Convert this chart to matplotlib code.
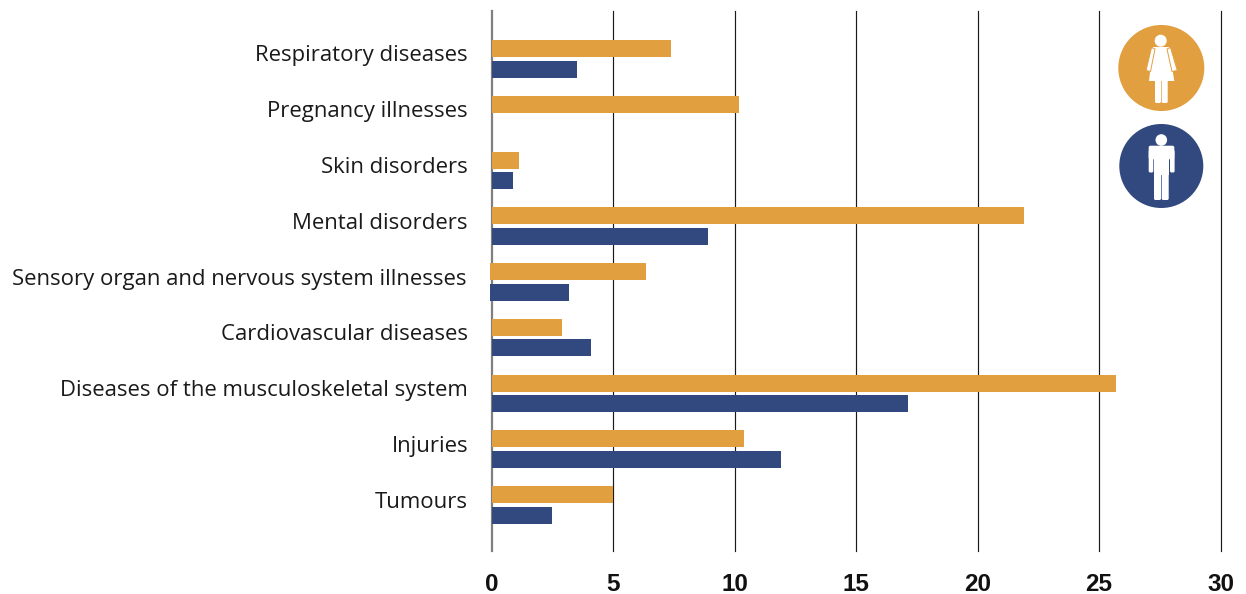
#!/usr/bin/env python3
"""Long-term sick leave by diagnosis group, women and men."""

import matplotlib
matplotlib.use('Agg')
import matplotlib.pyplot as plt
from matplotlib.patches import Circle, FancyBboxPatch, Polygon, Rectangle

categories = [
    'Respiratory diseases',
    'Pregnancy illnesses',
    'Skin disorders',
    'Mental disorders',
    'Sensory organ and nervous system illnesses',
    'Cardiovascular diseases',
    'Diseases of the musculoskeletal system',
    'Injuries',
    'Tumours',
]
women = [7.4, 10.2, 1.12, 21.9, 6.35, 2.92, 25.7, 10.4, 5.0]
men = [3.5, 0, 0.9, 8.9, 3.2, 4.1, 17.15, 11.9, 2.5]
x_ticks = [0, 5, 10, 15, 20, 25, 30]

ORANGE = '#e29f40'
BLUE = '#31497f'

W, H = 1246, 594
fig = plt.figure(figsize=(W / 100, H / 100), dpi=100)
fig.patch.set_facecolor('white')

# axes box in pixels: x 491.5..1220.5, y 11..551
ax = fig.add_axes([491.5 / W, 1 - 551 / H, 729 / W, (551 - 11) / H])
ax.set_xlim(0, 30)
step = 55.76
ax.set_ylim((551 - 58.5) / step, (11 - 58.5) / step)

for tick in x_ticks:
    ax.axvline(tick, color='#808080' if tick == 0 else '#1a1a1a',
               lw=1.6 if tick == 0 else 0.85, zorder=1, clip_on=False)

bar_h = 17 / step
for i, (w_val, m_val) in enumerate(zip(women, men)):
    # this row is set slightly left of the axis line
    left = -0.08 if i == 4 else 0
    ax.barh(i - 10 / step, w_val - left, left=left, height=bar_h, color=ORANGE, zorder=3, clip_on=False)
    if m_val:
        ax.barh(i + 10.5 / step, m_val - left, left=left, height=bar_h, color=BLUE, zorder=3, clip_on=False)

for spine in ax.spines.values():
    spine.set_visible(False)
ax.set_yticks([])
ax.set_xticks(x_ticks)
ax.tick_params(axis='x', length=0, pad=16)
for label in ax.set_xticklabels([str(t) for t in x_ticks]):
    label.set_fontfamily('Liberation Sans')
    label.set_fontweight('bold')
    label.set_fontsize(17.5)
    label.set_color('#111111')

for i, name in enumerate(categories):
    pad = -25.5 if i == 4 else -23.5
    ax.annotate(name, xy=(0, i), xycoords=('data', 'data'), xytext=(pad * 0.72, 1.8),
                textcoords='offset points', ha='right', va='center',
                fontfamily='Open Sans', fontsize=15.95, color='#1a1a1a')

# overlay in pixel coordinates for the two pictograms
icon = fig.add_axes([0, 0, 1, 1], facecolor='none')
icon.set_xlim(0, W)
icon.set_ylim(H, 0)
icon.axis('off')


def limb(x, y, w, h):
    return FancyBboxPatch((x + 1.5, y + 1.5), w - 3, h - 3, boxstyle='round,pad=1.5',
                          fc='white', ec='none')


# woman
icon.add_patch(Circle((1161.3, 68), 43, fc=ORANGE, ec='none'))
icon.add_patch(Circle((1160.7, 40.7), 6, fc='white', ec='none'))
icon.add_patch(Polygon([(1153, 47), (1169, 47), (1174.3, 81), (1149, 81)], fc='white', ec='none'))
icon.add_patch(Polygon([(1151.5, 47.5), (1155, 49), (1150.5, 71.5), (1146, 70.5)], fc='white', ec=ORANGE, lw=0.7))
icon.add_patch(Polygon([(1170.5, 47.5), (1167, 49), (1172, 71.5), (1177.3, 70.5)], fc='white', ec=ORANGE, lw=0.7))
icon.add_patch(limb(1155, 78, 6, 25))
icon.add_patch(limb(1161.7, 78, 6, 25))

# man
icon.add_patch(Circle((1161.3, 166), 42, fc=BLUE, ec='none'))
icon.add_patch(Circle((1161.3, 140), 5.8, fc='white', ec='none'))
icon.add_patch(FancyBboxPatch((1150.5, 147.5), 22, 10, boxstyle='round,pad=1.8', fc='white', ec='none'))
icon.add_patch(Rectangle((1154, 150), 14.7, 25, fc='white', ec='none'))
icon.add_patch(limb(1148.7, 150, 4.6, 22.5))
icon.add_patch(limb(1170, 150, 4.6, 22.5))
icon.add_patch(limb(1154, 170, 7, 30))
icon.add_patch(limb(1161.7, 170, 7, 30))

plt.savefig('out.png', dpi=100, facecolor='white')
plt.close()
